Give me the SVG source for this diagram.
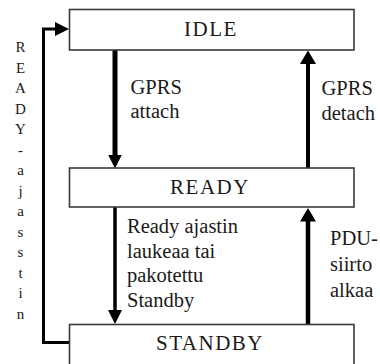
<svg xmlns="http://www.w3.org/2000/svg" width="380" height="364" viewBox="0 0 380 364">
  <defs>
    <style>
      .state { fill: #ffffff; stroke: #3a3a3a; stroke-width: 1.6; }
      .state-label { font-size: 21px; letter-spacing: 1.5px; fill: #1a1a1a; text-anchor: middle; }
      .note { font-size: 20.5px; fill: #1a1a1a; }
      .timer { font-size: 15px; fill: #1a1a1a; text-anchor: middle; }
      .wire { fill: none; stroke: #000000; stroke-linejoin: miter; }
    </style>
    <marker id="head" markerUnits="userSpaceOnUse" markerWidth="14" markerHeight="16" refX="0.5" refY="8" orient="auto">
      <path d="M0,0 L13.5,8 L0,16 z" fill="#000000"/>
    </marker>
    <marker id="head-small" markerUnits="userSpaceOnUse" markerWidth="15" markerHeight="14" refX="0.5" refY="7" orient="auto">
      <path d="M0,0 L14,7 L0,14 z" fill="#000000"/>
    </marker>
  </defs>

  <rect width="380" height="364" fill="#ffffff"/>

  <!-- transitions -->
  <g id="connectors">
    <!-- IDLE -> READY: GPRS attach -->
    <path class="wire" d="M115,50 L115,155" stroke-width="5" marker-end="url(#head-small)"/>
    <!-- READY -> IDLE: GPRS detach -->
    <path class="wire" d="M308,168 L308,63.5" stroke-width="4" marker-end="url(#head)"/>
    <!-- READY -> STANDBY: timer expiry / forced standby -->
    <path class="wire" d="M115,207 L115,310.5" stroke-width="3.5" marker-end="url(#head-small)"/>
    <!-- STANDBY -> READY: PDU transfer starts -->
    <path class="wire" d="M308,324 L308,221" stroke-width="4.5" marker-end="url(#head)"/>
    <!-- STANDBY -> IDLE: READY timer loop on the left -->
    <path class="wire" d="M69,342.5 L43.5,342.5 L43.5,29 L55.5,29" stroke-width="3" marker-end="url(#head-small)"/>
  </g>

  <g font-family="Liberation Serif, DejaVu Serif, serif">
    <g id="idle">
      <rect class="state" x="69.5" y="9.5" width="284.5" height="40.5"/>
      <text class="state-label" x="211" y="35.5">IDLE</text>
    </g>

    <g id="ready">
      <rect class="state" x="69.5" y="168" width="284.5" height="39"/>
      <text class="state-label" x="210" y="193.5">READY</text>
    </g>

    <g id="standby">
      <rect class="state" x="69.5" y="324.5" width="284.5" height="42"/>
      <text class="state-label" x="210" y="350">STANDBY</text>
    </g>

    <!-- transition labels -->
    <g id="labels">
      <text class="note" x="130.5" y="94">GPRS</text>
      <text class="note" x="130.5" y="118">attach</text>

      <text class="note" x="321.5" y="95">GPRS</text>
      <text class="note" x="321.5" y="119.5">detach</text>

      <text class="note" x="127" y="233">Ready ajastin</text>
      <text class="note" x="127" y="257.5">laukeaa tai</text>
      <text class="note" x="127" y="282">pakotettu</text>
      <text class="note" x="127" y="306.5">Standby</text>

      <text class="note" x="330" y="245">PDU-</text>
      <text class="note" x="330" y="271">siirto</text>
      <text class="note" x="330" y="296.5">alkaa</text>
    </g>

    <!-- READY-ajastin, written vertically -->
    <g id="timer-label">
      <text class="timer" x="20.5" y="52">R</text>
      <text class="timer" x="20.5" y="72.5">E</text>
      <text class="timer" x="20.5" y="93">A</text>
      <text class="timer" x="20.5" y="113.5">D</text>
      <text class="timer" x="20.5" y="134">Y</text>
      <text class="timer" x="20.5" y="154.5">-</text>
      <text class="timer" x="20.5" y="175">a</text>
      <text class="timer" x="20.5" y="195.5">j</text>
      <text class="timer" x="20.5" y="216">a</text>
      <text class="timer" x="20.5" y="236.5">s</text>
      <text class="timer" x="20.5" y="257">s</text>
      <text class="timer" x="20.5" y="277.5">t</text>
      <text class="timer" x="20.5" y="298">i</text>
      <text class="timer" x="20.5" y="318.5">n</text>
    </g>
  </g>
</svg>
